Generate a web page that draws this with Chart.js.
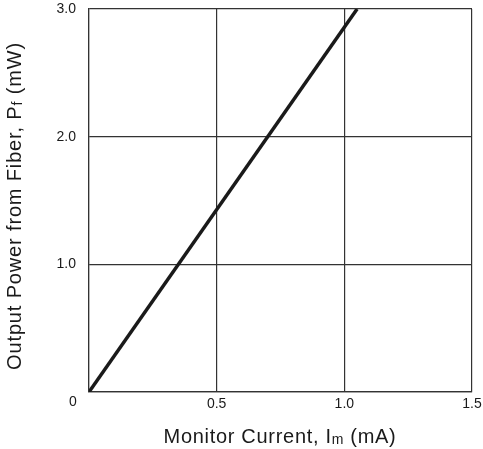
<!DOCTYPE html>
<html>
<head>
<meta charset="utf-8">
<script src="https://cdn.jsdelivr.net/npm/chart.js@4.4.1/dist/chart.umd.min.js"></script>
<style>
  html, body { margin: 0; padding: 0; background: #fff; }
  #wrap { width: 483px; height: 449px; }
</style>
</head>
<body>
<div id="wrap"><canvas id="chart"></canvas></div>
<script>
// Monitor current (mA) vs output power from fiber (mW)
const currentMA = [0, 1.05];
const powerMW = [0, 3.0];
const xTicks = [0, 0.5, 1.0, 1.5];
const yTicks = [0, 1.0, 2.0, 3.0];

const FONT = '"Liberation Sans", Arial, sans-serif';

// draws the axis titles with subscripts and the shared "0" origin label
const titlesPlugin = {
  id: 'titles',
  afterDraw(chart) {
    const ctx = chart.ctx;
    const xs = chart.scales.x, ys = chart.scales.y;
    ctx.save();
    ctx.fillStyle = '#1a1a1a';
    ctx.textBaseline = 'middle';
    ctx.font = '14px ' + FONT;
    ctx.textAlign = 'center';
    ctx.fillText('0', xs.left - 16, ys.bottom + 10);

    function drawSub(parts, cx, cy) {
      let total = 0;
      parts.forEach(p => { ctx.font = p.size + 'px ' + FONT; total += ctx.measureText(p.t).width; });
      let x = cx - total / 2;
      ctx.textAlign = 'left';
      parts.forEach(p => {
        ctx.font = p.size + 'px ' + FONT;
        ctx.fillText(p.t, x, cy + (p.dy || 0));
        x += ctx.measureText(p.t).width;
      });
    }
    ctx.letterSpacing = '0.7px';
    drawSub([{ t: 'Monitor Current, I', size: 20 }, { t: 'm', size: 14, dy: 3 }, { t: ' (mA)', size: 20 }],
      280, 437);

    ctx.letterSpacing = '0.85px';
    ctx.translate(15, 206);
    ctx.rotate(-Math.PI / 2);
    drawSub([{ t: 'Output Power from Fiber, P', size: 20 }, { t: 'f', size: 14, dy: 3 }, { t: ' (mW)', size: 20 }], 0, 0);
    ctx.restore();
  }
};

new Chart(document.getElementById('chart'), {
  type: 'scatter',
  data: {
    datasets: [{
      data: currentMA.map((x, i) => ({ x: x, y: powerMW[i] })),
      showLine: true,
      borderColor: '#1a1a1a',
      borderWidth: 3.5,
      pointRadius: 0
    }]
  },
  options: {
    responsive: true,
    maintainAspectRatio: false,
    animation: false,
    layout: { padding: { top: 9, right: 11, left: 0, bottom: 0 } },
    plugins: { legend: { display: false }, tooltip: { enabled: false } },
    scales: {
      x: {
        type: 'linear', min: 0, max: 1.5,
        afterBuildTicks: s => { s.ticks = xTicks.map(v => ({ value: v })); },
        afterFit: s => { s.height = 57; s.paddingLeft = 0; s.paddingRight = 0; },
        grid: { color: '#333', lineWidth: 1.2, drawTicks: false },
        border: { color: '#333', width: 1.2 },
        ticks: {
          padding: 4,
          color: '#1a1a1a',
          font: { family: FONT, size: 14 },
          callback: v => v === 0 ? '' : v.toFixed(1)
        }
      },
      y: {
        type: 'linear', min: 0, max: 3.0,
        afterBuildTicks: s => { s.ticks = yTicks.map(v => ({ value: v })); },
        afterFit: s => { s.width = 89; s.paddingTop = 0; s.paddingBottom = 0; },
        grid: { color: '#333', lineWidth: 1.2, drawTicks: false },
        border: { color: '#333', width: 1.2 },
        ticks: {
          padding: 13,
          color: '#1a1a1a',
          font: { family: FONT, size: 14 },
          callback: v => v === 0 ? '' : v.toFixed(1)
        }
      }
    }
  },
  plugins: [titlesPlugin]
});
</script>
</body>
</html>
